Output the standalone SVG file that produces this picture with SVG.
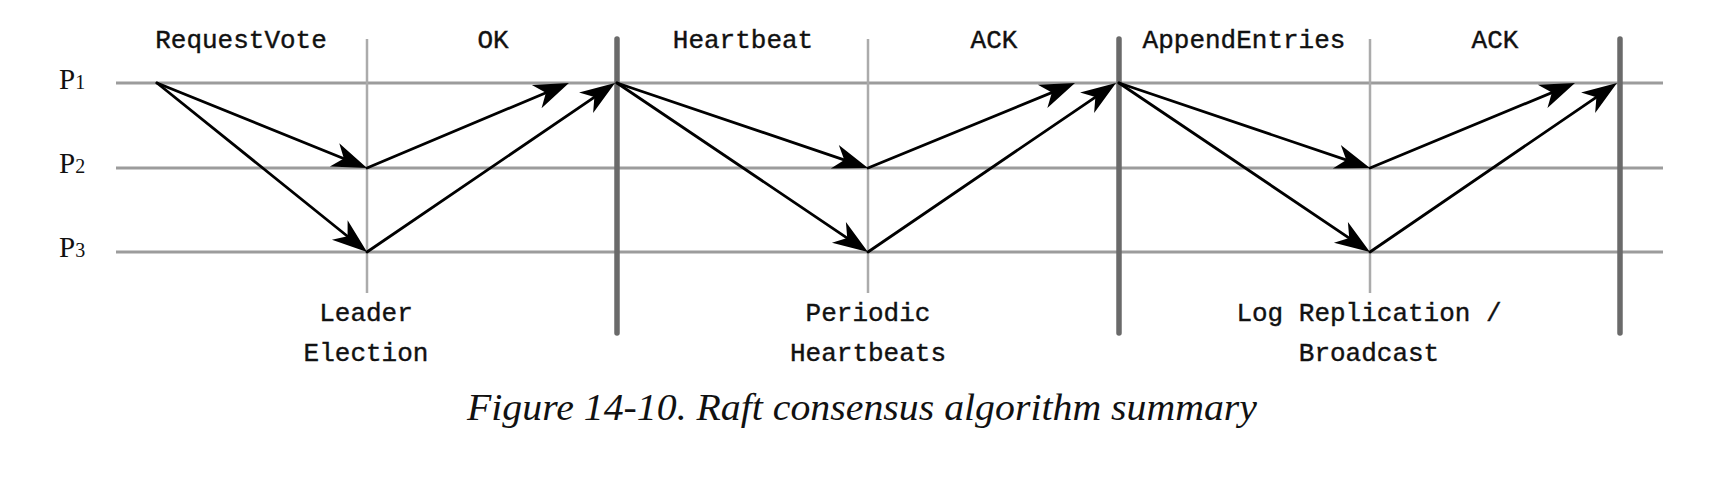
<svg xmlns="http://www.w3.org/2000/svg" width="1734" height="486" viewBox="0 0 1734 486">
<style>
.proc{stroke:#9c9c9c;stroke-width:3;fill:none}
.sub{stroke:#ababab;stroke-width:2.5;fill:none}
.phase{stroke:#6a6a6a;stroke-width:5.5;stroke-linecap:round;fill:none}
.msg{stroke:#000;stroke-width:2.8;stroke-linecap:round;fill:none;marker-end:url(#head)}
.mono{font-family:"Liberation Mono","DejaVu Sans Mono",monospace;font-size:26px;fill:#111;stroke:#111;stroke-width:0.4;text-anchor:middle}
.plabel{font-family:"Liberation Serif","DejaVu Serif",serif;font-size:29px;fill:#111}
.cap{font-family:"Liberation Serif","DejaVu Serif",serif;font-style:italic;font-size:38px;fill:#111;text-anchor:middle}
</style>
<defs>
<marker id="head" markerUnits="userSpaceOnUse" viewBox="-25 -14 40 28" refX="0" refY="0" markerWidth="40" markerHeight="28" orient="auto">
<path d="M12,0 L-23,-12.5 L-13,0 L-23,12.5 Z" fill="#000"/>
</marker>
</defs>
<rect width="1734" height="486" fill="#fff"/>
<g id="processes">
<line class="proc" x1="116" y1="83" x2="1663" y2="83"/>
<line class="proc" x1="116" y1="168" x2="1663" y2="168"/>
<line class="proc" x1="116" y1="252" x2="1663" y2="252"/>
</g>
<g id="labels-p">
<text class="plabel" x="59" y="89">P<tspan font-size="20">1</tspan></text>
<text class="plabel" x="59" y="173">P<tspan font-size="20">2</tspan></text>
<text class="plabel" x="59" y="257">P<tspan font-size="20">3</tspan></text>
</g>
<g id="dividers">
<line class="sub" x1="367" y1="39" x2="367" y2="293"/>
<line class="sub" x1="868" y1="39" x2="868" y2="293"/>
<line class="sub" x1="1370" y1="39" x2="1370" y2="293"/>
<line class="phase" x1="617" y1="39" x2="617" y2="333"/>
<line class="phase" x1="1119" y1="39" x2="1119" y2="333"/>
<line class="phase" x1="1620" y1="39" x2="1620" y2="333"/>
</g>
<g id="connectors">
<line class="msg" x1="157" y1="83" x2="355.9" y2="163.5"/>
<line class="msg" x1="157" y1="83" x2="357.7" y2="244.5"/>
<line class="msg" x1="367" y1="168" x2="557.9" y2="87.7"/>
<line class="msg" x1="367" y1="252" x2="605.1" y2="89.8"/>
<line class="msg" x1="617" y1="83" x2="856.6" y2="164.1"/>
<line class="msg" x1="617" y1="83" x2="858.0" y2="245.3"/>
<line class="msg" x1="868" y1="168" x2="1063.9" y2="87.6"/>
<line class="msg" x1="868" y1="252" x2="1106.1" y2="89.8"/>
<line class="msg" x1="1119" y1="83" x2="1358.6" y2="164.1"/>
<line class="msg" x1="1119" y1="83" x2="1360.0" y2="245.3"/>
<line class="msg" x1="1370" y1="168" x2="1563.9" y2="87.6"/>
<line class="msg" x1="1370" y1="252" x2="1607.1" y2="89.8"/>
</g>
<g id="phase-election">
<text class="mono" x="241" y="48">RequestVote</text>
<text class="mono" x="493" y="48">OK</text>
<text class="mono" x="366" y="321">Leader</text>
<text class="mono" x="366" y="361">Election</text>
</g>
<g id="phase-heartbeat">
<text class="mono" x="743" y="48">Heartbeat</text>
<text class="mono" x="994" y="48">ACK</text>
<text class="mono" x="868" y="321">Periodic</text>
<text class="mono" x="868" y="361">Heartbeats</text>
</g>
<g id="phase-replication">
<text class="mono" x="1244" y="48">AppendEntries</text>
<text class="mono" x="1495" y="48">ACK</text>
<text class="mono" x="1369" y="321">Log Replication /</text>
<text class="mono" x="1369" y="361">Broadcast</text>
</g>
<g id="caption">
<text class="cap" x="862" y="420" textLength="790" lengthAdjust="spacingAndGlyphs">Figure 14-10. Raft consensus algorithm summary</text>
</g>
</svg>
